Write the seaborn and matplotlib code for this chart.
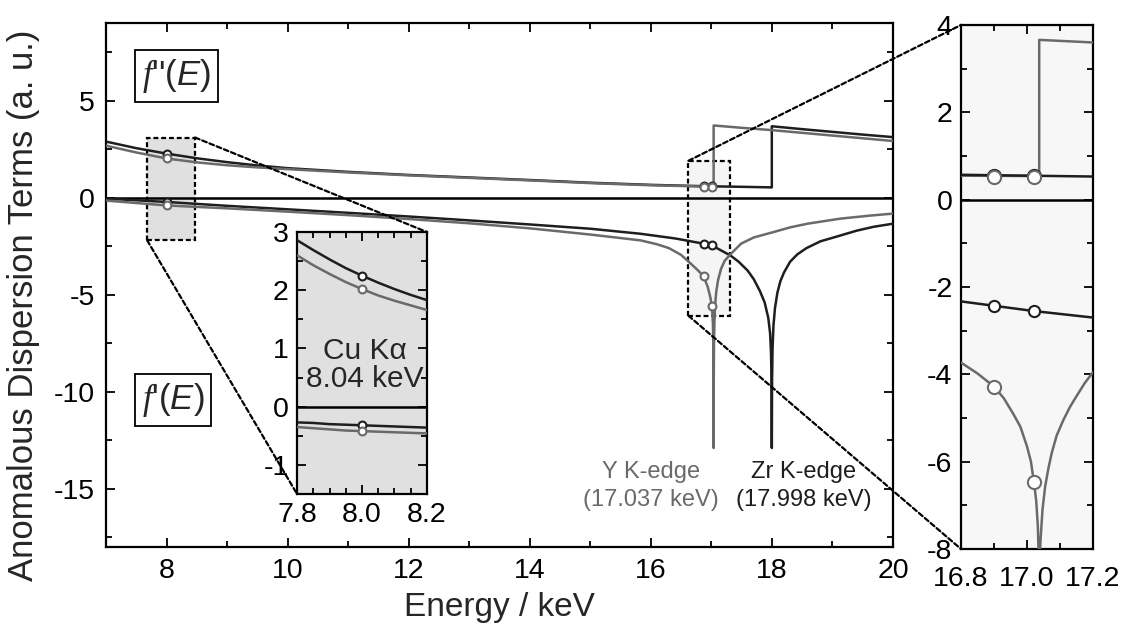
import matplotlib
matplotlib.use("Agg")
import matplotlib.pyplot as plt
from matplotlib.patches import Rectangle, ConnectionPatch
from matplotlib.ticker import MultipleLocator
import seaborn as sns

# ---------------- data ----------------
# f''(E), imaginary part, main panel
E_fpp_zr = [7.0, 7.5, 8.0, 8.5, 9.0, 9.5, 10.0, 11.0, 12.0, 13.0, 14.0, 15.0, 16.0, 16.9,
            17.5, 17.998, 17.998, 18.5, 19.0, 19.5, 20.0]
fpp_zr = [2.89, 2.55, 2.27, 2.03, 1.83, 1.66, 1.52, 1.33, 1.17, 1.04, 0.91, 0.77, 0.66, 0.59,
          0.56, 0.53, 3.68, 3.53, 3.39, 3.25, 3.12]
E_fpp_y = [7.0, 7.5, 8.0, 8.5, 9.0, 9.5, 10.0, 11.0, 12.0, 13.0, 14.0, 15.0, 16.0, 16.9,
           17.037, 17.037, 17.5, 18.0, 18.5, 19.0, 19.5, 20.0]
fpp_y = [2.68, 2.33, 2.02, 1.82, 1.67, 1.56, 1.47, 1.30, 1.15, 1.02, 0.89, 0.75, 0.64, 0.57,
         0.55, 3.72, 3.60, 3.48, 3.34, 3.20, 3.06, 2.92]

# f'(E), real part, main panel
E_fp_zr = [7.0, 8.0, 9.0, 10.0, 11.0, 12.0, 13.0, 14.0, 15.0, 15.83, 16.4, 16.87, 17.01,
           17.15, 17.32, 17.45, 17.6, 17.7, 17.8, 17.88, 17.94, 17.97, 17.985, 17.994, 17.998,
           18.002, 18.01, 18.025, 18.05, 18.09, 18.14, 18.2, 18.3, 18.42, 18.57, 18.8,
           19.13, 19.4, 19.68, 20.0]
fp_zr = [-0.05, -0.22, -0.42, -0.60, -0.78, -0.97, -1.17, -1.38, -1.60, -1.86, -2.10, -2.37,
         -2.46, -2.70, -2.99, -3.30, -3.76, -4.20, -4.80, -5.40, -6.20, -7.00, -8.00, -9.50,
         -12.9, -9.50, -7.80, -6.60, -5.70, -4.90, -4.30, -3.85, -3.30, -2.92, -2.60, -2.25,
         -1.95, -1.70, -1.50, -1.34]
E_fp_y = [7.0, 8.0, 9.0, 10.0, 11.0, 12.0, 13.0, 14.0, 15.0, 15.83, 16.1, 16.3, 16.5, 16.66,
          16.78, 16.87, 16.94, 16.98, 17.01, 17.025, 17.031, 17.035, 17.037, 17.039, 17.043,
          17.05, 17.06, 17.08, 17.11, 17.16, 17.22, 17.32, 17.49, 17.7, 18.04, 18.3, 18.59,
          19.13, 19.6, 20.0]
fp_y = [-0.15, -0.40, -0.55, -0.72, -0.90, -1.10, -1.32, -1.58, -1.90, -2.20, -2.40, -2.60,
        -2.95, -3.40, -3.75, -4.05, -4.60, -5.10, -5.60, -6.50, -7.50, -9.00, -12.9, -9.50,
        -7.50, -6.40, -5.60, -4.85, -4.25, -3.66, -3.25, -2.90, -2.37, -2.05, -1.76, -1.53,
        -1.34, -1.08, -0.93, -0.82]

# selected energies marked with circles (main panel)
E_mark_cu = [8.0]
mark_cu_fpp_zr = [2.27]
mark_cu_fpp_y = [2.02]
mark_cu_fp_zr = [-0.22]
mark_cu_fp_y = [-0.40]
E_mark_edge = [16.87, 17.01]
mark_edge_fpp_zr = [0.59, 0.58]
mark_edge_fpp_y = [0.57, 0.56]
mark_edge_fp_zr = [-2.37, -2.46]
mark_edge_fp_y = [-4.05, -5.6]

# Cu K-alpha close-up
E_in = [7.8, 7.85, 7.9, 7.95, 8.0, 8.05, 8.1, 8.15, 8.2]
in_fpp_zr = [2.86, 2.69, 2.53, 2.38, 2.25, 2.13, 2.02, 1.92, 1.83]
in_fpp_y = [2.60, 2.43, 2.28, 2.14, 2.02, 1.91, 1.82, 1.74, 1.66]
in_fp_zr = [-0.27, -0.28, -0.30, -0.31, -0.32, -0.33, -0.34, -0.35, -0.36]
in_fp_y = [-0.35, -0.37, -0.39, -0.41, -0.42, -0.43, -0.44, -0.45, -0.46]
E_in_mark = [8.0]
in_mark_vals_zr = [2.25, -0.32]
in_mark_vals_y = [2.02, -0.42]

# Y K-edge close-up
E_r_fpp_zr = [16.8, 17.2]
r_fpp_zr = [0.57, 0.53]
E_r_fpp_y = [16.8, 17.037, 17.037, 17.2]
r_fpp_y = [0.55, 0.54, 3.66, 3.60]
E_r_fp_zr = [16.8, 16.9, 17.02, 17.2]
r_fp_zr = [-2.33, -2.43, -2.55, -2.70]
E_r_fp_y = [16.8, 16.85, 16.9, 16.93, 16.958, 16.98, 17.0, 17.012, 17.021, 17.028, 17.033,
            17.036, 17.037, 17.038, 17.041, 17.047, 17.055, 17.065, 17.075, 17.09, 17.11,
            17.13, 17.15, 17.175, 17.2]
r_fp_y = [-3.73, -3.98, -4.28, -4.55, -4.90, -5.20, -5.65, -6.00, -6.47, -6.90, -7.50,
          -8.30, -9.00, -8.30, -7.80, -7.10, -6.57, -6.15, -5.80, -5.40, -5.05,
          -4.75, -4.50, -4.20, -3.95]
E_r_mark = [16.9, 17.02]
r_mark_fpp_zr = [0.55, 0.55]
r_mark_fpp_y = [0.53, 0.53]
r_mark_fp_zr = [-2.43, -2.55]
r_mark_fp_y = [-4.28, -6.47]

# ---------------- style ----------------
sns.set_theme(style="ticks")
plt.rcParams["font.family"] = ["Liberation Sans", "DejaVu Sans"]
plt.rcParams["axes.unicode_minus"] = False
plt.rcParams["mathtext.fontset"] = "custom"
plt.rcParams["mathtext.it"] = "Liberation Serif:italic"
plt.rcParams["mathtext.sf"] = "Liberation Sans:italic"
plt.rcParams["mathtext.rm"] = "Liberation Sans"

BLACK = "#1e1e1e"
GRAY = "#6a6a6a"
LW = 1.8
DASH = (0, (2.2, 1.3))
TICK_SIZE = 20.5

fig = plt.figure(figsize=(11.23, 6.3), dpi=100)
ax = fig.add_axes([0.0944, 0.1317, 0.7008, 0.8318])
axr = fig.add_axes([0.8557, 0.1286, 0.1176, 0.8317])
axin = fig.add_axes([0.2645, 0.2159, 0.1157, 0.4158])


def style_axes(a, size=TICK_SIZE, pad=8, xpad=None):
    a.tick_params(which="both", direction="in", top=True, right=True,
                  width=1.3, colors="black", labelsize=size, pad=pad)
    if xpad is not None:
        a.tick_params(axis="x", which="both", pad=xpad)
    a.tick_params(which="major", length=6.5)
    a.tick_params(which="minor", length=4)
    for s in a.spines.values():
        s.set_linewidth(1.6)
        s.set_color("black")


def line(a, x, y, color, z=3):
    sns.lineplot(x=x, y=y, ax=a, color=color, lw=LW, estimator=None, sort=False,
                 legend=False, zorder=z)


def dots(a, x, y, color, s):
    sns.scatterplot(x=x, y=y, ax=a, color="white", edgecolor=color, linewidth=1.5,
                    s=s, zorder=6, legend=False)


# ---------------- main panel ----------------
ax.add_patch(Rectangle((7.68, -2.2), 8.47 - 7.68, 3.1 + 2.2, facecolor="#e0e0e0",
                       edgecolor="black", lw=1.6, ls=DASH, zorder=1))
ax.add_patch(Rectangle((16.62, -6.08), 17.31 - 16.62, 1.9 + 6.08, facecolor="#f5f5f5",
                       edgecolor="black", lw=1.6, ls=DASH, zorder=1))
ax.axhline(0, color="black", lw=LW, zorder=2)
line(ax, E_fpp_zr, fpp_zr, BLACK)
line(ax, E_fpp_y, fpp_y, GRAY)
line(ax, E_fp_zr, fp_zr, BLACK)
line(ax, E_fp_y, fp_y, GRAY)
for vals, c in [(mark_cu_fpp_zr, BLACK), (mark_cu_fpp_y, GRAY),
                (mark_cu_fp_zr, BLACK), (mark_cu_fp_y, GRAY)]:
    dots(ax, E_mark_cu, vals, c, 32)
for vals, c in [(mark_edge_fpp_zr, BLACK), (mark_edge_fpp_y, GRAY),
                (mark_edge_fp_zr, BLACK), (mark_edge_fp_y, GRAY)]:
    dots(ax, E_mark_edge, vals, c, 32)

ax.set_xlim(7, 20)
ax.set_ylim(-18, 9)
ax.xaxis.set_major_locator(MultipleLocator(2))
ax.xaxis.set_minor_locator(MultipleLocator(1))
ax.yaxis.set_major_locator(MultipleLocator(5))
ax.yaxis.set_minor_locator(MultipleLocator(2.5))
style_axes(ax)
ax.set_xlabel("Energy / keV", fontsize=24, labelpad=6)
ax.set_ylabel("Anomalous Dispersion Terms (a. u.)", fontsize=25)
ax.yaxis.set_label_coords(-0.084, 0.462)

box = dict(boxstyle="square,pad=0.2", fc="white", ec="black", lw=1.3)
ax.text(8.16, 6.29, r"$f$''($\mathsf{E}$)", fontsize=25, ha="center", va="center",
        bbox=box, zorder=7)
ax.text(8.11, -10.44, r"$f$'($\mathsf{E}$)", fontsize=25, ha="center", va="center",
        bbox=box, zorder=7)
ax.text(16.0, -14.85, "Y K-edge\n(17.037 keV)", fontsize=17, color=GRAY,
        ha="center", va="center", linespacing=1.35)
ax.text(18.52, -14.85, "Zr K-edge\n(17.998 keV)", fontsize=17, color=BLACK,
        ha="center", va="center", linespacing=1.35)

# ---------------- Cu K-alpha close-up ----------------
axin.set_facecolor("#e0e0e0")
axin.axhline(0, color="black", lw=LW, zorder=2)
line(axin, E_in, in_fpp_zr, BLACK)
line(axin, E_in, in_fpp_y, GRAY)
line(axin, E_in, in_fp_zr, BLACK)
line(axin, E_in, in_fp_y, GRAY)
for v in in_mark_vals_zr:
    dots(axin, E_in_mark, [v], BLACK, 32)
for v in in_mark_vals_y:
    dots(axin, E_in_mark, [v], GRAY, 32)
axin.set_xlim(7.8, 8.2)
axin.set_ylim(-1.5, 3)
axin.xaxis.set_major_locator(MultipleLocator(0.2))
axin.xaxis.set_minor_locator(MultipleLocator(0.05))
axin.yaxis.set_major_locator(MultipleLocator(1))
axin.yaxis.set_minor_locator(MultipleLocator(0.5))
axin.xaxis.set_major_formatter(lambda v, p: f"{v:.1f}")
style_axes(axin, pad=6)
axin.set_xlabel("")
axin.set_ylabel("")
axin.text(8.01, 0.72, "Cu K\u03b1\n8.04 keV", fontsize=21.5, ha="center", va="center",
          linespacing=1.0, zorder=7)

# ---------------- Y K-edge close-up ----------------
axr.set_facecolor("#f7f7f7")
axr.axhline(0, color="black", lw=LW, zorder=2)
line(axr, E_r_fpp_y, r_fpp_y, GRAY)
line(axr, E_r_fpp_zr, r_fpp_zr, BLACK)
line(axr, E_r_fp_zr, r_fp_zr, BLACK)
line(axr, E_r_fp_y, r_fp_y, GRAY)
dots(axr, E_r_mark, r_mark_fpp_zr, BLACK, 90)
dots(axr, E_r_mark, r_mark_fpp_y, GRAY, 90)
dots(axr, E_r_mark, r_mark_fp_zr, BLACK, 65)
dots(axr, E_r_mark, r_mark_fp_y, GRAY, 90)
axr.set_xlim(16.8, 17.2)
axr.set_ylim(-8, 4)
axr.xaxis.set_major_locator(MultipleLocator(0.2))
axr.xaxis.set_minor_locator(MultipleLocator(0.1))
axr.yaxis.set_major_locator(MultipleLocator(2))
axr.yaxis.set_minor_locator(MultipleLocator(1))
axr.xaxis.set_major_formatter(lambda v, p: f"{v:.1f}")
axr.yaxis.set_major_formatter(lambda v, p: f"{v:.0f}")
style_axes(axr, pad=6, xpad=12)
axr.set_xlabel("")
axr.set_ylabel("")

# ---------------- zoom connectors ----------------
connectors = [
    ((8.47, 3.1), ax, (8.2, 3.0), axin),
    ((7.68, -2.2), ax, (7.8, -1.5), axin),
    ((16.62, 1.9), ax, (16.8, 4.0), axr),
    ((16.62, -6.08), ax, (16.8, -8.0), axr),
]
for pa, a_from, pb, a_to in connectors:
    con = ConnectionPatch(xyA=pa, coordsA=a_from.transData, xyB=pb, coordsB=a_to.transData,
                          color="black", lw=1.6, ls=DASH, zorder=10)
    fig.add_artist(con)

fig.savefig("out.png", dpi=100)
